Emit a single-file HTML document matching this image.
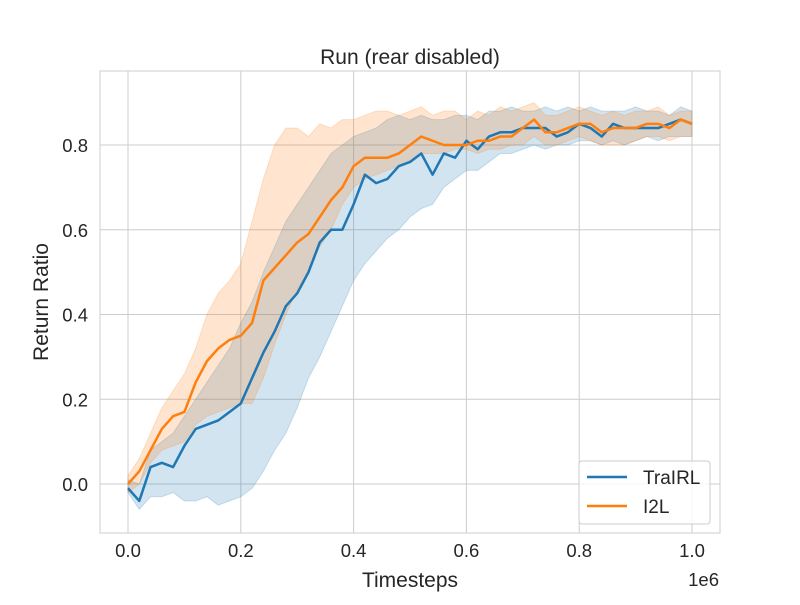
<!DOCTYPE html>
<html><head><meta charset="utf-8"><style>
body{margin:0;background:#fff;font-family:"Liberation Sans","DejaVu Sans",sans-serif}
svg text{font-family:"Liberation Sans","DejaVu Sans",sans-serif;fill:#262626}
</style></head><body>
<svg id="c" width="800" height="600" xmlns="http://www.w3.org/2000/svg"></svg>
<script>
const xs = [];
for (let i = 0; i <= 50; i++) xs.push(i * 0.02);
const xTicks = [0, 0.2, 0.4, 0.6, 0.8, 1.0];
const xTickLabels = ["0.0","0.2","0.4","0.6","0.8","1.0"];
const yTicks = [0, 0.2, 0.4, 0.6, 0.8];
const yTickLabels = ["0.0","0.2","0.4","0.6","0.8"];
const blueMean = [-0.01,-0.04,0.04,0.05,0.04,0.09,0.13,0.14,0.15,0.17,0.19,0.25,0.31,0.36,0.42,0.45,0.50,0.57,0.60,0.60,0.66,0.73,0.71,0.72,0.75,0.76,0.78,0.73,0.78,0.77,0.81,0.79,0.82,0.83,0.83,0.84,0.84,0.84,0.82,0.83,0.85,0.84,0.82,0.85,0.84,0.84,0.84,0.84,0.85,0.86,0.85];
const blueLo = [-0.02,-0.06,-0.03,-0.03,-0.02,-0.04,-0.04,-0.03,-0.05,-0.04,-0.03,-0.01,0.03,0.08,0.12,0.18,0.25,0.30,0.36,0.42,0.48,0.52,0.55,0.58,0.60,0.63,0.65,0.66,0.70,0.72,0.74,0.74,0.76,0.78,0.78,0.79,0.80,0.79,0.80,0.80,0.81,0.81,0.80,0.81,0.80,0.81,0.82,0.81,0.82,0.82,0.82];
const blueHi = [0.01,0.0,0.08,0.10,0.12,0.16,0.20,0.24,0.28,0.32,0.38,0.43,0.50,0.56,0.62,0.66,0.70,0.74,0.78,0.80,0.82,0.83,0.84,0.86,0.87,0.86,0.87,0.86,0.86,0.87,0.87,0.86,0.88,0.88,0.89,0.88,0.88,0.89,0.88,0.89,0.88,0.89,0.88,0.88,0.88,0.89,0.88,0.88,0.87,0.89,0.88];
const orangeMean = [0.0,0.03,0.08,0.13,0.16,0.17,0.24,0.29,0.32,0.34,0.35,0.38,0.48,0.51,0.54,0.57,0.59,0.63,0.67,0.70,0.75,0.77,0.77,0.77,0.78,0.80,0.82,0.81,0.80,0.80,0.80,0.81,0.81,0.82,0.82,0.84,0.86,0.83,0.83,0.84,0.85,0.85,0.83,0.84,0.84,0.84,0.85,0.85,0.84,0.86,0.85];
const orangeLo = [-0.02,0.0,0.05,0.08,0.09,0.10,0.14,0.16,0.17,0.18,0.19,0.19,0.25,0.33,0.40,0.46,0.50,0.56,0.60,0.66,0.70,0.72,0.73,0.74,0.75,0.76,0.78,0.78,0.78,0.79,0.79,0.78,0.79,0.79,0.80,0.80,0.82,0.80,0.80,0.81,0.82,0.81,0.80,0.80,0.80,0.81,0.82,0.82,0.81,0.82,0.82];
const orangeHi = [0.02,0.06,0.12,0.18,0.22,0.26,0.32,0.40,0.45,0.48,0.52,0.62,0.72,0.80,0.84,0.84,0.82,0.85,0.84,0.86,0.86,0.87,0.88,0.88,0.87,0.88,0.89,0.87,0.88,0.88,0.86,0.88,0.87,0.89,0.88,0.89,0.90,0.87,0.87,0.88,0.89,0.88,0.87,0.88,0.87,0.88,0.88,0.89,0.87,0.88,0.88];

const svg = document.getElementById('c');
const NS = 'http://www.w3.org/2000/svg';
const L=100,R=720,T=71,B=533;
const sx = v => 128 + v*564;
const sy = v => 484 - v*423.75;
function mk(tag, attrs, parent){const e=document.createElementNS(NS,tag);for(const k in attrs)e.setAttribute(k,attrs[k]);(parent||svg).appendChild(e);return e;}
function txt(s,x,y,size,anchor,name,extra){const t=mk('text',Object.assign({x:x,y:y,'font-size':size,'text-anchor':anchor},extra||{}));t.textContent=s;


return t;}

const frame = mk('rect',{x:L,y:T,width:R-L,height:B-T,fill:'#fff',stroke:'#ccc','stroke-width':1});


xTicks.forEach((v,i)=>{
  const g = mk('line',{x1:sx(v),x2:sx(v),y1:T,y2:B,stroke:'#ccc','stroke-width':1});
  
  
  txt(xTickLabels[i], sx(v), 557, 18.5, 'middle', 'x-tick-label');
});
yTicks.forEach((v,i)=>{
  const g = mk('line',{x1:L,x2:R,y1:sy(v),y2:sy(v),stroke:'#ccc','stroke-width':1});
  
  
  txt(yTickLabels[i], 88, sy(v)+7, 18.5, 'end', 'y-tick-label');
});
function band(lo,hi,color,name){
  let d='M'+xs.map((x,i)=>sx(x)+','+sy(hi[i])).join('L');
  d+='L'+xs.slice().reverse().map((x,j)=>{const i=xs.length-1-j;return sx(x)+','+sy(lo[i]);}).join('L')+'Z';
  const p = mk('path',{d:d,fill:color,'fill-opacity':0.2,stroke:color,'stroke-opacity':0.2});
  
  
}
function line(m,color,name){
  const p = mk('path',{d:'M'+xs.map((x,i)=>sx(x)+','+sy(m[i])).join('L'),fill:'none',stroke:color,'stroke-width':2.5,'stroke-linejoin':'round'});
  
  
}
band(blueLo,blueHi,'#1f77b4','trairl-band');
band(orangeLo,orangeHi,'#ff7f0e','i2l-band');
line(blueMean,'#1f77b4','trairl-line');
line(orangeMean,'#ff7f0e','i2l-line');

txt('Run (rear disabled)', 410, 64, 21, 'middle', 'chart-title');
txt('Timesteps', 410, 587, 21, 'middle', 'x-axis-title');
txt('1e6', 719, 586, 18.5, 'end', 'x-offset-label');
txt('Return Ratio', 48, 302, 21, 'middle', 'y-axis-title', {transform:'rotate(-90 48 302)'});

const lg = mk('rect',{x:579,y:461,width:131,height:63,rx:3,fill:'#fff','fill-opacity':0.8,stroke:'#ccc'});


const l1 = mk('line',{x1:587,x2:627,y1:477,y2:477,stroke:'#1f77b4','stroke-width':2.5});


txt('TraIRL', 643, 484, 19, 'start', 'legend-label-trairl');
const l2 = mk('line',{x1:587,x2:627,y1:506,y2:506,stroke:'#ff7f0e','stroke-width':2.5});


txt('I2L', 643, 513, 19, 'start', 'legend-label-i2l');
</script>
</body></html>
